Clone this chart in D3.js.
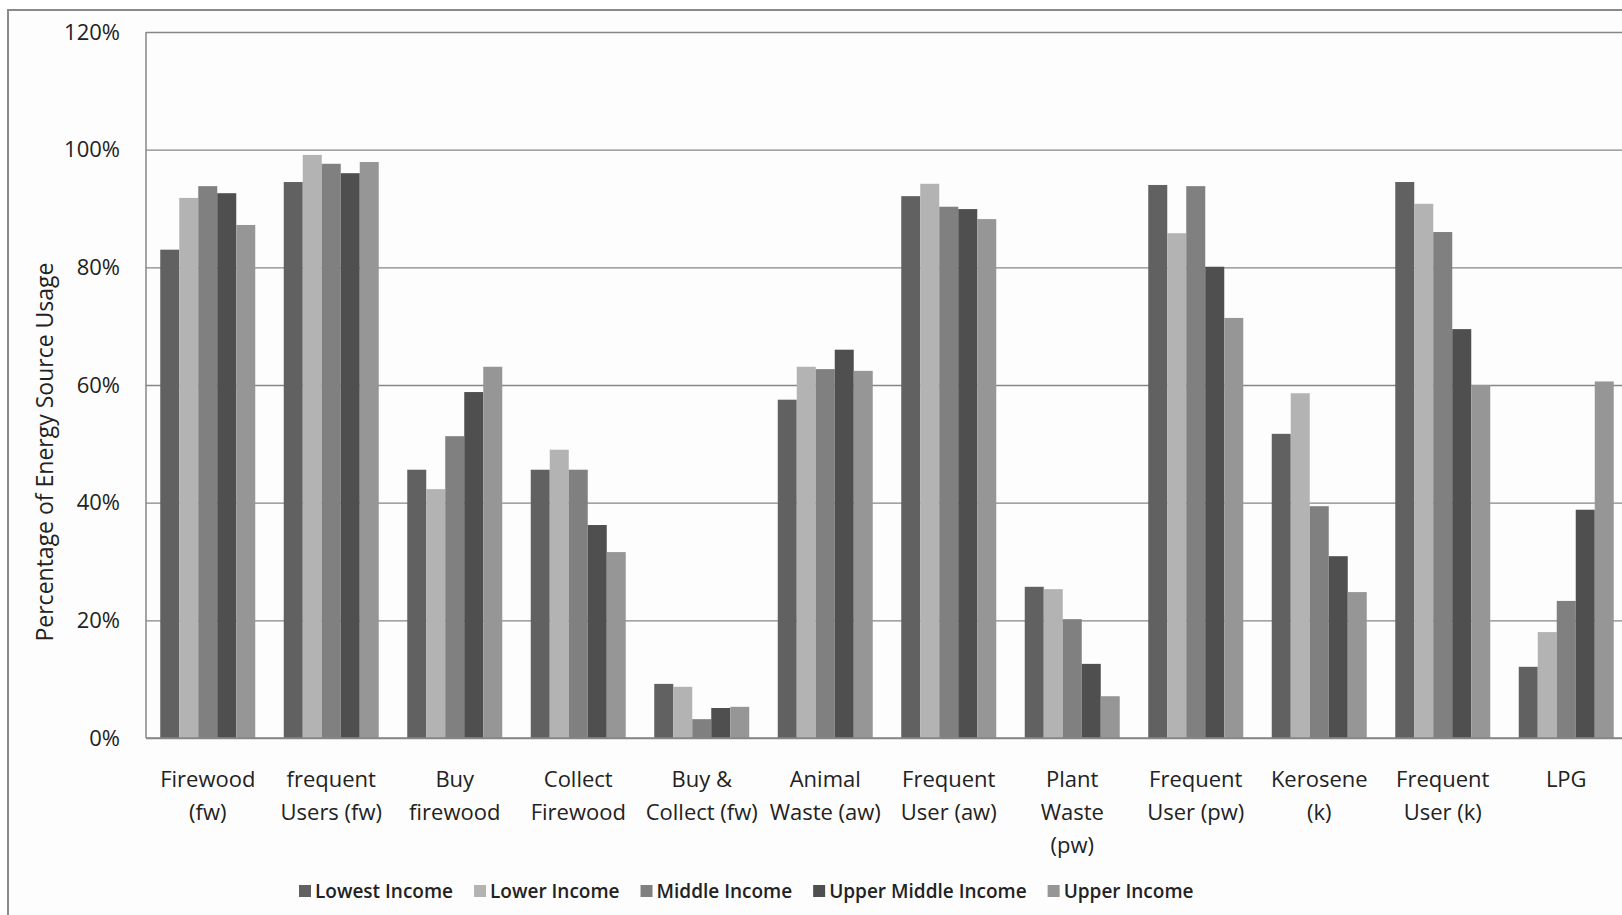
<!DOCTYPE html>
<html>
<head>
<meta charset="utf-8">
<script src="https://cdn.jsdelivr.net/npm/d3@7"></script>
<style>
  body { margin: 0; background: #fff; overflow: hidden; }
  text { font-family: "Open Sans", sans-serif; fill: #222; }
</style>
</head>
<body>
<div id="chart"></div>
<script>
// Dimensions of the page and plot area.
var width = 1622;
var height = 915;
var plot = { left: 146, top: 32, bottom: 738, right: 146 + 12 * 123.5 };

// Categories, each label split into its lines.
var categories = ["fw", "fwFreq", "buy", "collect", "buyCollect", "aw", "awFreq",
  "pw", "pwFreq", "k", "kFreq", "lpg"];
var categoryLabels = [
  ["Firewood", "(fw)"],
  ["frequent", "Users (fw)"],
  ["Buy", "firewood"],
  ["Collect", "Firewood"],
  ["Buy &", "Collect (fw)"],
  ["Animal", "Waste (aw)"],
  ["Frequent", "User (aw)"],
  ["Plant", "Waste", "(pw)"],
  ["Frequent", "User (pw)"],
  ["Kerosene", "(k)"],
  ["Frequent", "User (k)"],
  ["LPG"]
];

// Series names and values (percent), one array per income group.
var seriesNames = ["Lowest Income", "Lower Income", "Middle Income", "Upper Middle Income", "Upper Income"];
var lowestIncome      = [83.0, 94.5, 45.6, 45.6, 9.2, 57.5, 92.1, 25.7, 94.0, 51.7, 94.5, 12.1];
var lowerIncome       = [91.8, 99.1, 42.3, 49.0, 8.7, 63.1, 94.2, 25.3, 85.8, 58.6, 90.8, 18.0];
var middleIncome      = [93.8, 97.6, 51.3, 45.6, 3.2, 62.7, 90.3, 20.2, 93.8, 39.4, 86.0, 23.3];
var upperMiddleIncome = [92.6, 96.0, 58.8, 36.2, 5.1, 66.0, 89.9, 12.6, 80.1, 30.9, 69.5, 38.8];
var upperIncome       = [87.2, 97.9, 63.1, 31.6, 5.3, 62.4, 88.2, 7.1, 71.4, 24.8, 60.0, 60.6];
var seriesValues = [lowestIncome, lowerIncome, middleIncome, upperMiddleIncome, upperIncome];

// Tick values for the y axis.
var yTicks = [0, 20, 40, 60, 80, 100, 120];

// Mapping of series names to colors.
var colors = {
  "Lowest Income": "#616161",
  "Lower Income": "#b3b3b3",
  "Middle Income": "#808080",
  "Upper Middle Income": "#4f4f4f",
  "Upper Income": "#969696"
};

var svg = d3.select("#chart").append("svg")
    .attr("width", width)
    .attr("height", height);

// Chart area border (runs off the right and bottom edge).
svg.append("rect")
    .attr("x", 8).attr("y", 10)
    .attr("width", 1800).attr("height", 1000)
    .attr("fill", "#fdfdfd")
    .attr("stroke", "#8a8a8a")
    .attr("stroke-width", 2);

var x = d3.scaleBand()
    .domain(categories)
    .range([plot.left, plot.right])
    .paddingInner(1.5 / 6.5)
    .paddingOuter(0.75 / 6.5);

var xSub = d3.scaleBand()
    .domain(seriesNames)
    .range([0, x.bandwidth()]);

var y = d3.scaleLinear()
    .domain([0, 120])
    .range([plot.bottom, plot.top]);

// Gridlines and tick labels.
var yAxis = d3.axisLeft(y)
    .tickValues(yTicks)
    .tickSize(-(plot.right - plot.left))
    .tickPadding(26)
    .tickFormat(function(d) { return d + "%"; });

var gAxis = svg.append("g")
    .attr("transform", "translate(" + plot.left + ",0)")
    .call(yAxis);
gAxis.select(".domain").remove();
gAxis.selectAll(".tick line")
    .attr("stroke", "#868686")
    .attr("stroke-width", 1.3);
gAxis.selectAll(".tick text")
    .attr("font-family", "Open Sans")
    .attr("font-size", 22)
    .attr("fill", "#222");

// Left border of the plot area.
svg.append("line")
    .attr("x1", plot.left).attr("x2", plot.left)
    .attr("y1", plot.top).attr("y2", plot.bottom)
    .attr("stroke", "#868686")
    .attr("stroke-width", 1.5);

// Bars.
var groups = svg.selectAll("g.group")
    .data(categories)
    .enter().append("g")
    .attr("class", "group")
    .attr("transform", function(d) { return "translate(" + x(d) + ",0)"; });

groups.selectAll("rect")
    .data(function(d, i) {
      return seriesNames.map(function(name, s) {
        return { name: name, value: seriesValues[s][i] };
      });
    })
    .enter().append("rect")
    .attr("x", function(d) { return xSub(d.name); })
    .attr("width", xSub.bandwidth())
    .attr("y", function(d) { return y(d.value); })
    .attr("height", function(d) { return y(0) - y(d.value); })
    .attr("fill", function(d) { return colors[d.name]; });

// Redraw the baseline over the bars.
svg.append("line")
    .attr("x1", plot.left).attr("x2", plot.right)
    .attr("y1", y(0)).attr("y2", y(0))
    .attr("stroke", "#868686")
    .attr("stroke-width", 1.5);

// Category labels.
svg.selectAll("text.cat")
    .data(categories)
    .enter().append("text")
    .attr("class", "cat")
    .attr("text-anchor", "middle")
    .attr("font-size", 22)
    .each(function(d, i) {
      var t = d3.select(this);
      categoryLabels[i].forEach(function(line, j) {
        t.append("tspan")
            .attr("x", x(d) + x.bandwidth() / 2)
            .attr("y", 787 + j * 33)
            .text(line);
      });
    });

// Y axis title.
svg.append("text")
    .attr("transform", "translate(53,452) rotate(-90)")
    .attr("text-anchor", "middle")
    .attr("font-size", 23)
    .text("Percentage of Energy Source Usage");

// Legend.
var legend = svg.append("g").attr("transform", "translate(0,891)");
var lx = 299;
seriesNames.forEach(function(name) {
  legend.append("rect")
      .attr("x", lx).attr("y", -6)
      .attr("width", 12).attr("height", 12)
      .attr("fill", colors[name]);
  var t = legend.append("text")
      .attr("x", lx + 16).attr("y", 7)
      .attr("font-size", 19)
      .attr("font-weight", 600)
      .text(name);
  lx += 16 + t.node().getComputedTextLength() + 21;
});
</script>
</body>
</html>
